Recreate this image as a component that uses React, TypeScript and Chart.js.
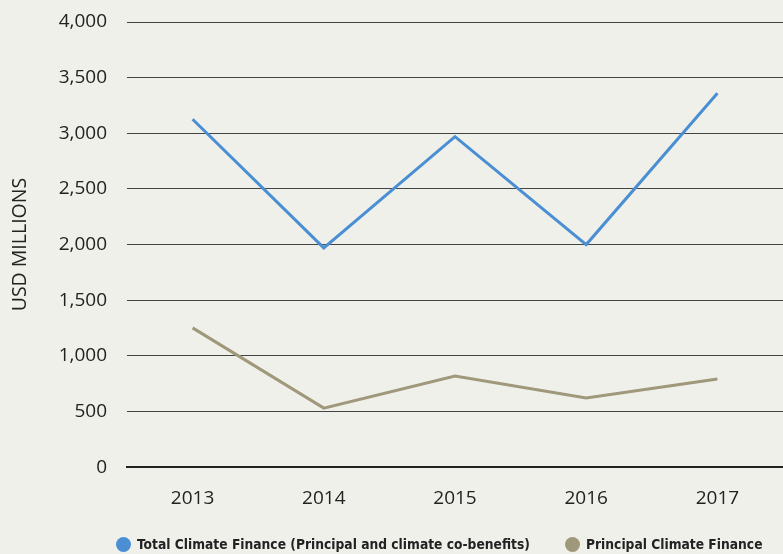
import React, { useEffect, useRef } from "react";
import { Chart, registerables } from "chart.js";

Chart.register(...registerables);

const years = ["2013", "2014", "2015", "2016", "2017"];
const totalFinance = [3126, 1970, 2970, 2000, 3360];
const principalFinance = [1252, 531, 820, 622, 793];
const yTicks = [0, 500, 1000, 1500, 2000, 2500, 3000, 3500, 4000];

const BLUE = "#4a8fd3";
const BROWN = "#a0987a";
const BG = "#f0f0eb";

export default function App() {
  const ref = useRef<HTMLCanvasElement>(null);
  useEffect(() => {
    document.body.style.margin = "0";
    const chart = new Chart(ref.current!, {
      type: "line",
      data: {
        labels: years,
        datasets: [
          { label: "Total Climate Finance (Principal and climate co-benefits)", data: totalFinance, borderColor: BLUE, borderWidth: 3, pointRadius: 0, tension: 0 },
          { label: "Principal Climate Finance", data: principalFinance, borderColor: BROWN, borderWidth: 3, pointRadius: 0, tension: 0 },
        ],
      },
      options: {
        animation: false,
        responsive: false,
        layout: { padding: { top: 22, right: 0, bottom: 24, left: 0 } },
        plugins: { legend: { display: false }, tooltip: { enabled: false } },
        scales: {
          x: {
            offset: true,
            grid: { display: false, drawTicks: false },
            border: { display: true, color: "#222", width: 2 },
            ticks: { padding: 20, color: "#222", font: { family: "Open Sans", size: 19 } },
          },
          y: {
            min: 0,
            max: 4000,
            afterBuildTicks: (s: any) => { s.ticks = yTicks.map((v) => ({ value: v })); },
            afterFit: (s: any) => { s.paddingTop = 0; s.paddingBottom = 0; s.width = 127; },
            grid: { color: "#444", lineWidth: 1, drawTicks: false },
            border: { display: false },
            ticks: {
              padding: 20,
              color: "#222",
              font: { family: "Open Sans", size: 19 },
              callback: (v: any) => Number(v).toLocaleString("en-US"),
            },
            title: { display: true, text: "USD MILLIONS", color: "#222", font: { family: "Open Sans", size: 19.5 }, padding: { top: 9, bottom: 0 } },
          },
        },
      },
    });
    return () => chart.destroy();
  }, []);
  const legendItem = (color: string, text: string, left: number) => (
    <div style={{ position: "absolute", left, top: 536, display: "flex", alignItems: "center", whiteSpace: "nowrap" }}>
      <span style={{ display: "inline-block", width: 15, height: 15, borderRadius: "50%", background: color, marginRight: 6 }} />
      <span style={{ fontFamily: "DejaVu Sans Condensed", fontWeight: "bold", fontSize: 13.7, color: "#222" }}>{text}</span>
    </div>
  );
  return (
    <div style={{ position: "relative", width: 783, height: 554, background: BG, overflow: "hidden" }}>
      <canvas ref={ref} width={783} height={554} style={{ position: "absolute", left: 0, top: 0 }} />
      {legendItem(BLUE, "Total Climate Finance (Principal and climate co-benefits)", 116)}
      {legendItem(BROWN, "Principal Climate Finance", 565)}
    </div>
  );
}
